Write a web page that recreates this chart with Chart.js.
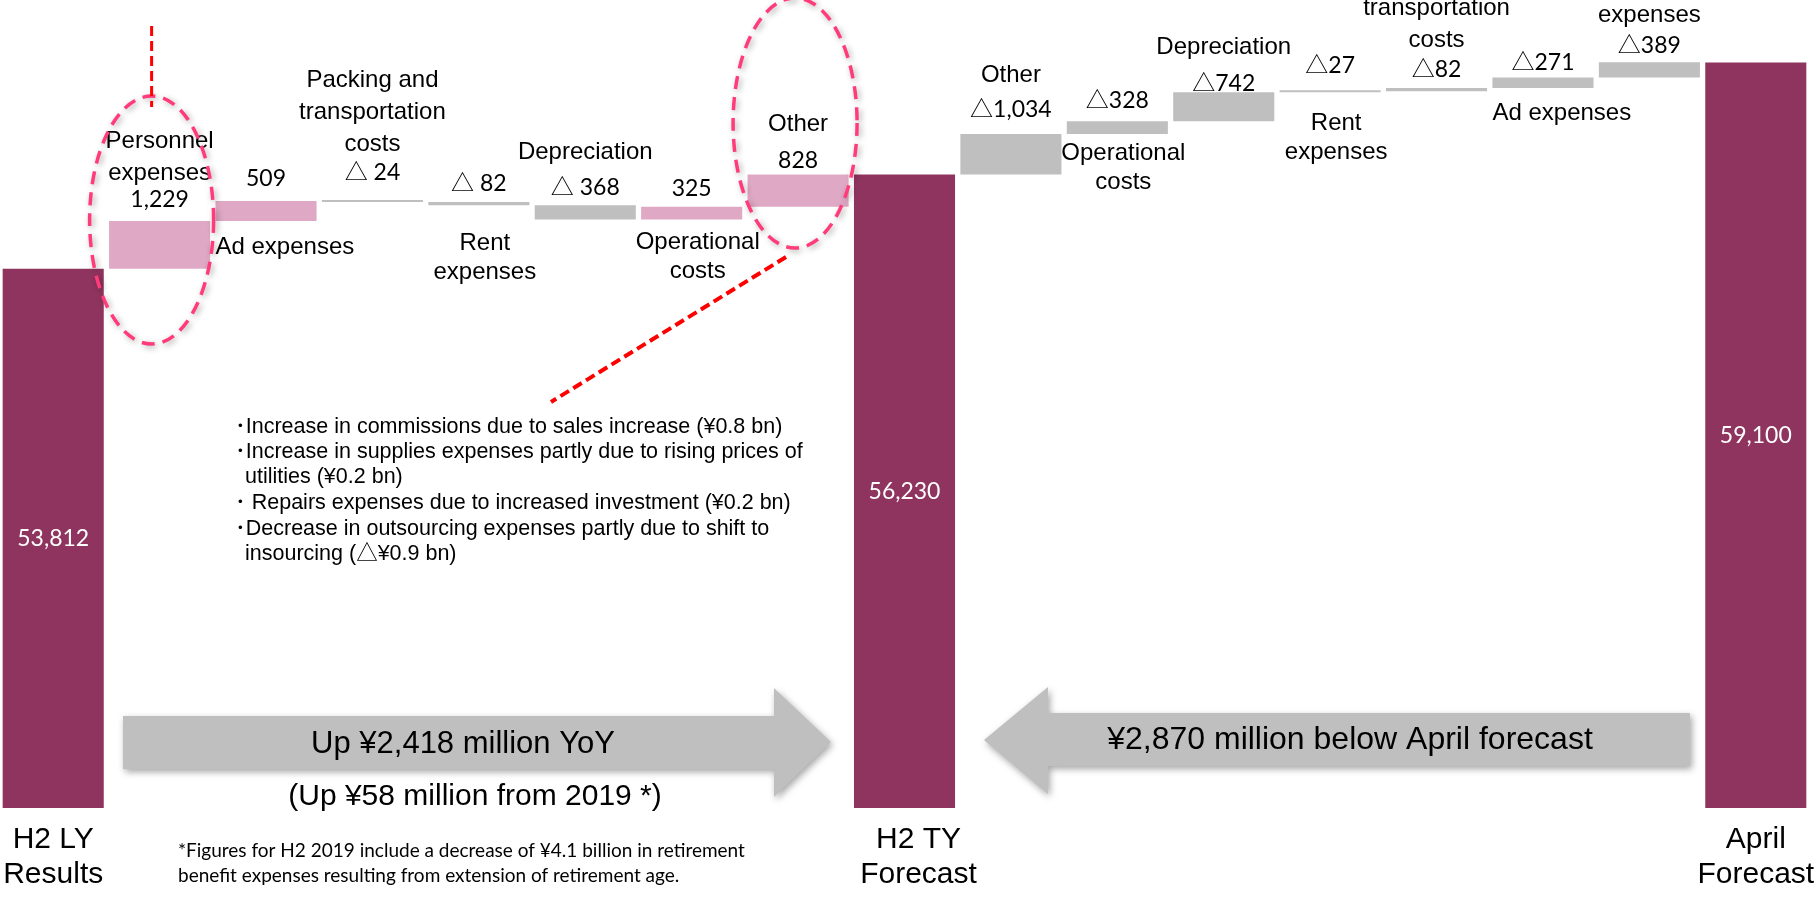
<!DOCTYPE html>
<html>
<head>
<meta charset="utf-8">
<script src="https://cdn.jsdelivr.net/npm/chart.js@4.4.1/dist/chart.umd.min.js"></script>
<style>
  html, body { margin: 0; padding: 0; background: #ffffff; overflow: hidden; }
  canvas { display: block; }
</style>
</head>
<body>
<canvas id="sga" width="1819" height="898"></canvas>
<script>
// SG&A expenses bridge: H2 last year -> H2 this year forecast -> April forecast (¥ million)
const categories = [
  ['H2 LY', 'Results'],
  ['Personnel', 'expenses'],
  ['Ad expenses'],
  ['Packing and', 'transportation', 'costs'],
  ['Rent', 'expenses'],
  ['Depreciation'],
  ['Operational', 'costs'],
  ['Other'],
  ['H2 TY', 'Forecast'],
  ['Other'],
  ['Operational', 'costs'],
  ['Depreciation'],
  ['Rent', 'expenses'],
  ['Packing and', 'transportation', 'costs'],
  ['Ad expenses'],
  ['Personnel', 'expenses'],
  ['April', 'Forecast']
];

const h2LastYearResults = 53812;
const yoyChanges = [1229, 509, -24, -82, -368, 325, 828];
const h2ThisYearForecast = 56230;
const belowAprilForecast = [1034, 328, 742, 27, 82, 271, 389];
const aprilForecast = 59100;

// where each item's name sits relative to its bar
const namePlacement = ['', 'above', 'below-start', 'above', 'below', 'above', 'below', 'above',
  '', 'above', 'below', 'above', 'below', 'above', 'below-start', 'above', ''];
// small vertical nudges for the label blocks: [value, name] in px
const labelNudge = [
  [0, 0], [-3, 5], [-4, 0], [-9, -3], [0, 12], [0, 0], [0, -3], [4, 3],
  [0, 0], [-7, -6], [-3, -7], [9, 8], [-7, 5], [-1, 5], [3, -1], [1, 6], [0, 0]
];

const AXIS_FLOOR = 40000;
const COLOR_TOTAL = '#8F345E';
const COLOR_UP = '#DFA8C4';
const COLOR_DOWN = '#BFBFBF';

const fmt = n => Math.abs(n).toLocaleString('en-US');

// floating ranges for the waterfall
const ranges = [];
const colors = [];
const valueLabels = [];
const totalIndex = [];

function pushTotal(v) {
  totalIndex.push(ranges.length);
  ranges.push([AXIS_FLOOR, v]);
  colors.push(COLOR_TOTAL);
  valueLabels.push(fmt(v));
}

pushTotal(h2LastYearResults);
let run = h2LastYearResults;
yoyChanges.forEach(c => {
  ranges.push([run, run + c]);
  colors.push(c >= 0 ? COLOR_UP : COLOR_DOWN);
  valueLabels.push(c >= 0 ? fmt(c) : '\u25B3 ' + fmt(c));
  run += c;
});
pushTotal(h2ThisYearForecast);
run = h2ThisYearForecast;
belowAprilForecast.forEach(g => {
  ranges.push([run, run + g]);
  colors.push(COLOR_DOWN);
  valueLabels.push('\u25B3' + fmt(g));
  run += g;
});
pushTotal(aprilForecast);

const NAME_FONT = "24px 'Liberation Sans', Arial, sans-serif";
const NUM_FONT = "23px Lato, 'Noto Sans CJK JP', sans-serif";
const AXIS_FONT = "30px 'Liberation Sans', Arial, sans-serif";
const NOTE_FONT = "21.5px 'Liberation Sans', Arial, 'Noto Sans CJK JP', sans-serif";

function polygon(ctx, pts) {
  ctx.beginPath();
  ctx.moveTo(pts[0][0], pts[0][1]);
  for (let i = 1; i < pts.length; i++) ctx.lineTo(pts[i][0], pts[i][1]);
  ctx.closePath();
}

const bridgeDecor = {
  id: 'bridgeDecor',
  beforeDatasetsDraw(chart) {
    const ctx = chart.ctx;
    ctx.save();
    // block arrows between the totals
    ctx.fillStyle = '#BFBFBF';
    ctx.shadowColor = 'rgba(0,0,0,0.35)';
    ctx.shadowBlur = 7;
    ctx.shadowOffsetX = 2;
    ctx.shadowOffsetY = 3;
    polygon(ctx, [[123, 716], [774, 716], [774, 688], [831, 742], [774, 797], [774, 769], [123, 769]]);
    ctx.fill();
    polygon(ctx, [[984, 740], [1048, 687], [1048, 713], [1690, 713], [1690, 766], [1048, 766], [1048, 794]]);
    ctx.fill();
    ctx.restore();
  },
  afterDatasetsDraw(chart) {
    const ctx = chart.ctx;
    const bars = chart.getDatasetMeta(0).data;
    ctx.save();
    ctx.textAlign = 'center';
    ctx.textBaseline = 'middle';

    bars.forEach((bar, i) => {
      const top = Math.min(bar.y, bar.base);
      const bottom = Math.max(bar.y, bar.base);
      const lines = categories[i];
      if (totalIndex.includes(i)) {
        ctx.fillStyle = '#ffffff';
        ctx.font = NUM_FONT;
        ctx.fillText(valueLabels[i], bar.x, (top + bottom) / 2);
        ctx.fillStyle = '#000000';
        ctx.font = AXIS_FONT;
        const shift = i === 8 ? 14 : 0;
        lines.forEach((t, k) => ctx.fillText(t, bar.x + shift, 840 + k * 35));
        return;
      }
      const [dv, dn] = labelNudge[i];
      const vy = top - 18 + dv;
      ctx.fillStyle = '#000000';
      ctx.font = NUM_FONT;
      ctx.textAlign = 'center';
      ctx.fillText(valueLabels[i], bar.x, vy);
      ctx.font = NAME_FONT;
      const place = namePlacement[i];
      if (place === 'above') {
        const base = top - 18 - 35 + dn;
        lines.forEach((t, k) => {
          ctx.fillText(t, bar.x, base - (lines.length - 1 - k) * 32);
        });
      } else {
        const left = bar.x - bar.width / 2;
        ctx.textAlign = place === 'below-start' ? 'left' : 'center';
        lines.forEach((t, k) => {
          ctx.fillText(t, place === 'below-start' ? left : bar.x + 6, bottom + 26 + dn + k * 29);
        });
        ctx.textAlign = 'center';
      }
    });

    // arrow captions
    ctx.fillStyle = '#000000';
    ctx.font = "31px 'Liberation Sans', Arial, sans-serif";
    ctx.fillText('Up \u00A5' + fmt(h2ThisYearForecast - h2LastYearResults) + ' million YoY', 463, 744);
    ctx.font = "32px 'Liberation Sans', Arial, sans-serif";
    ctx.fillText('\u00A5' + fmt(aprilForecast - h2ThisYearForecast) + ' million below April forecast', 1350, 740);
    ctx.font = "30px 'Liberation Sans', Arial, sans-serif";
    ctx.fillText('(Up \u00A558 million from 2019 *)', 475, 797);

    // breakdown of "Other"
    ctx.textAlign = 'left';
    ctx.font = NOTE_FONT;
    const notes = [
      ['\uFF65Increase in commissions due to sales increase (\u00A50.8 bn)', 235, 427],
      ['\uFF65Increase in supplies expenses partly due to rising prices of', 235, 452],
      ['utilities (\u00A50.2 bn)', 245, 477],
      ['\uFF65 Repairs expenses due to increased investment (\u00A50.2 bn)', 235, 503],
      ['\uFF65Decrease in outsourcing expenses partly due to shift to', 235, 529],
      ['insourcing (\u25B3\u00A50.9 bn)', 245, 554]
    ];
    notes.forEach(([t, x, y]) => ctx.fillText(t, x, y));

    // footnote
    ctx.font = "19px Lato, sans-serif";
    ctx.fillText('*Figures for H2 2019 include a decrease of \u00A54.1 billion in retirement', 178, 851);
    ctx.fillText('benefit expenses resulting from extension of retirement age.', 178, 876);

    // highlight rings around Personnel and Other
    ctx.strokeStyle = '#FF3B7A';
    ctx.lineWidth = 3.5;
    ctx.setLineDash([13, 8]);
    ctx.shadowColor = 'rgba(0,0,0,0.35)';
    ctx.shadowBlur = 6;
    ctx.shadowOffsetX = 2;
    ctx.shadowOffsetY = 2;
    const p = bars[1], o = bars[7];
    ctx.beginPath();
    ctx.ellipse(p.x - 8, 220, 62, 124, 0, 0, Math.PI * 2);
    ctx.stroke();
    ctx.beginPath();
    ctx.ellipse(o.x - 3, 123, 62, 125, 0, 0, Math.PI * 2);
    ctx.stroke();

    // red leader lines
    ctx.shadowColor = 'transparent';
    ctx.strokeStyle = '#FF0000';
    ctx.lineWidth = 3;
    ctx.setLineDash([10, 5]);
    ctx.beginPath();
    ctx.moveTo(p.x - 8, 26);
    ctx.lineTo(p.x - 8, 107);
    ctx.stroke();
    ctx.lineWidth = 4;
    ctx.beginPath();
    ctx.moveTo(786, 257);
    ctx.lineTo(551, 402);
    ctx.stroke();
    ctx.restore();
  }
};

new Chart(document.getElementById('sga'), {
  type: 'bar',
  data: {
    labels: categories,
    datasets: [{
      data: ranges,
      backgroundColor: colors,
      borderWidth: 0,
      borderSkipped: false,
      barPercentage: 0.95,
      categoryPercentage: 1,
      minBarLength: 2
    }]
  },
  options: {
    responsive: false,
    animation: false,
    layout: { padding: { left: 0, right: 10, top: 0, bottom: 90 } },
    plugins: { legend: { display: false }, tooltip: { enabled: false } },
    scales: {
      x: { display: false, offset: true },
      y: { display: false, min: AXIS_FLOOR, max: 60700 }
    }
  },
  plugins: [bridgeDecor]
});
</script>
</body>
</html>
